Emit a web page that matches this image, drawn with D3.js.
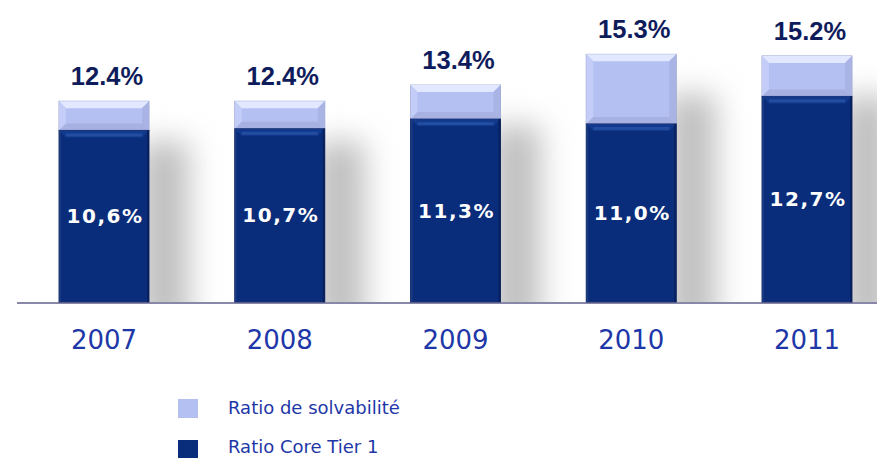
<!DOCTYPE html>
<html><head><meta charset="utf-8">
<script src="https://cdn.jsdelivr.net/npm/d3@7"></script>
<style>body{margin:0;background:#fff}svg{display:block}</style>
</head><body>
<svg id="c" width="877" height="458"></svg>
<script>
const years = ["2007","2008","2009","2010","2011"];
const coreTier1 = [10.6, 10.7, 11.3, 11.0, 12.7];
const solvency = [12.4, 12.4, 13.4, 15.3, 15.2];
const coreLabels = ["10,6%","10,7%","11,3%","11,0%","12,7%"];
const totalLabels = ["12.4%","12.4%","13.4%","15.3%","15.2%"];
const legendLabels = ["Ratio de solvabilité","Ratio Core Tier 1"];

const svg = d3.select("#c");
const W = 877, H = 458;
const base = 302;
const y = d3.scaleLinear().domain([0, 16]).range([base, 43]);
const x = d3.scalePoint().domain(years).range([104, 807]);
const bw = 90;
const dark = "#0a2d7b", light = "#b5c0f2";

const defs = svg.append("defs");
defs.append("filter").attr("id","blur").attr("x","-100%").attr("y","-50%").attr("width","300%").attr("height","200%")
  .append("feGaussianBlur").attr("stdDeviation", 15);
defs.append("clipPath").attr("id","above").append("rect").attr("x",0).attr("y",0).attr("width",W).attr("height",base);

// shadows
svg.append("g").attr("clip-path","url(#above)").attr("filter","url(#blur)")
  .selectAll("rect").data(years).join("rect")
  .attr("x", d => x(d) + bw/2 - 10)
  .attr("y", (d,i) => y(solvency[i]) + 40)
  .attr("width", 50)
  .attr("height", (d,i) => base - y(solvency[i]) - 10)
  .attr("fill", "#c0c0c0");

// axis line
svg.append("line").attr("x1",17).attr("x2",W).attr("y1",base+1).attr("y2",base+1)
  .attr("stroke","#8a88a8").attr("stroke-width",2);

const g = svg.append("g");
years.forEach((yr, i) => {
  const x0 = x(yr) - bw/2, x1 = x0 + bw;
  const yt = y(solvency[i]), yc = y(coreTier1[i]);
  // light segment
  g.append("rect").attr("x",x0).attr("y",yt).attr("width",bw).attr("height",yc-yt)
    .attr("fill",light).attr("stroke","#a0a8cc").attr("stroke-width",1);
  const bv = 7;
  g.append("path").attr("d",`M${x0},${yt}L${x1},${yt}L${x1-bv},${yt+bv}L${x0+bv},${yt+bv}Z`).attr("fill","#e2e8ff");
  g.append("path").attr("d",`M${x0},${yt}L${x0+bv},${yt+bv}L${x0+bv},${yc-bv}L${x0},${yc}Z`).attr("fill","#c4cdf7");
  g.append("path").attr("d",`M${x1},${yt}L${x1-bv},${yt+bv}L${x1-bv},${yc-bv}L${x1},${yc}Z`).attr("fill","#a9b3e4");
  g.append("path").attr("d",`M${x0},${yc}L${x0+bv},${yc-bv}L${x1-bv},${yc-bv}L${x1},${yc}Z`).attr("fill","#a8b2e2");
  // dark segment
  g.append("rect").attr("x",x0).attr("y",yc).attr("width",bw).attr("height",base-yc)
    .attr("fill",dark).attr("stroke","#23306a").attr("stroke-width",1);
  g.append("path").attr("d",`M${x0},${yc}L${x1},${yc}L${x1-bv},${yc+bv}L${x0+bv},${yc+bv}Z`).attr("fill","#123a8c");
  g.append("rect").attr("x",x0+bv).attr("y",yc+3).attr("width",bw-2*bv).attr("height",3).attr("fill","#2a56a8").attr("opacity",0.7);
  g.append("rect").attr("x",x0).attr("y",yc).attr("width",2).attr("height",base-yc).attr("fill","#1a3a80");
  g.append("rect").attr("x",x1-2).attr("y",yc).attr("width",2).attr("height",base-yc).attr("fill","#06215e");
  // core label
  g.append("text").attr("x", x(yr)+1).attr("y", (yc+base)/2 + 7)
    .attr("text-anchor","middle").attr("fill","#fff")
    .attr("font-family","DejaVu Sans, Verdana, sans-serif").attr("font-weight","bold")
    .attr("font-size",20).attr("letter-spacing","1.5px").text(coreLabels[i]);
  // total label
  g.append("text").attr("x", x(yr)+3).attr("y", yt - 16)
    .attr("text-anchor","middle").attr("fill","#0f1c5c")
    .attr("font-family","Liberation Sans, Arial, sans-serif").attr("font-weight","bold")
    .attr("font-size",25.5).text(totalLabels[i]);
  // year label
  g.append("text").attr("x", x(yr)).attr("y", 349)
    .attr("text-anchor","middle").attr("fill","#1e37a8")
    .attr("font-family","DejaVu Sans, Verdana, sans-serif")
    .attr("font-size",26).text(yr);
});

// legend
const lg = svg.append("g");
const legColors = [light, dark];
legendLabels.forEach((t, i) => {
  lg.append("rect").attr("x",178).attr("y",399 + i*41).attr("width",20).attr("height",19).attr("fill",legColors[i]);
  lg.append("text").attr("x",228).attr("y",414 + i*39).attr("fill","#1e37a8")
    .attr("font-family","DejaVu Sans, Verdana, sans-serif").attr("font-size",18).text(t);
});
</script>
</body></html>
